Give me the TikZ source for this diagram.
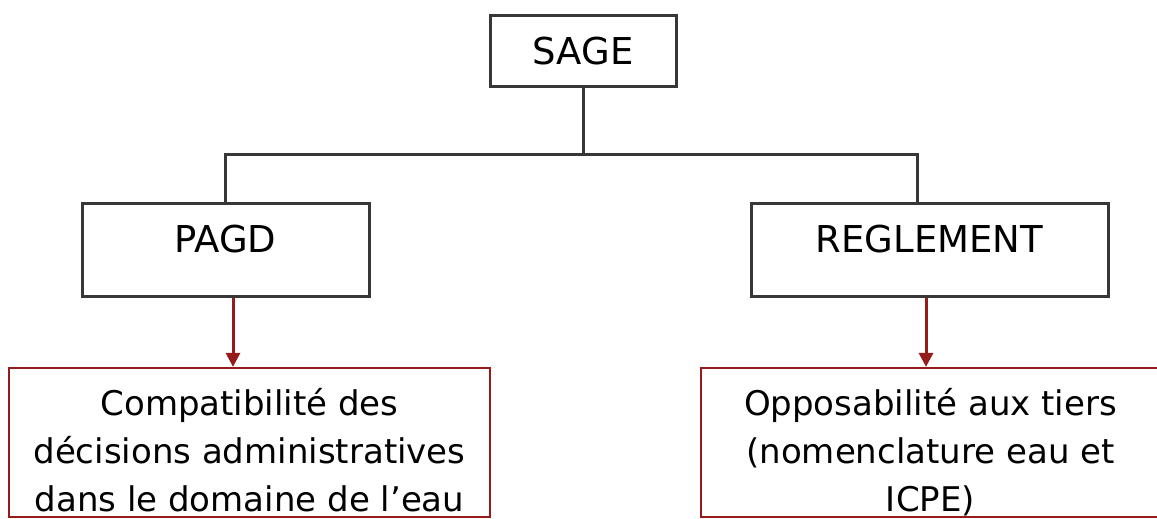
\documentclass[tikz,border=0pt]{standalone}
\usepackage{fontspec}
\setmainfont{DejaVu Sans}
\usepackage{tikz}
\usetikzlibrary{arrows.meta}
\usepackage{xcolor}
\definecolor{boxgray}{RGB}{55,55,55}
\definecolor{linkred}{RGB}{150,28,28}

\begin{document}
\begin{tikzpicture}[x=0.5pt,y=-0.5pt]
  \tikzset{levelbox/.style={draw=boxgray,line width=1.5pt,fill=white,inner sep=0pt,font=\fontsize{18.5}{22}\selectfont,text height=24.5pt}}
  \tikzset{effectbox/.style={draw=linkred,line width=1.1pt,inner sep=0pt,align=center,font=\fontsize{17}{24}\selectfont,text height=71.5pt,text depth=3pt}}
  \tikzset{treelink/.style={draw=boxgray,line width=1.5pt}}
  \tikzset{effectlink/.style={draw=linkred,line width=1.5pt,-{Triangle[width=7pt,length=7pt]}}}
  \useasboundingbox (0,0) rectangle (1157,519);
  \node[levelbox,minimum width=93pt,text depth=11pt] (sage) at (583,51.5) {SAGE};
  \node[levelbox,minimum width=143.5pt,text depth=22pt] (pagd) at (225.5,249.5) {PAGD};
  \node[levelbox,minimum width=178.5pt,text depth=22pt] (regl) at (929.5,249.5) {REGLEMENT};
  \node[effectbox,minimum width=240.5pt] (compat) at (249.5,442.5) {Compatibilité des\\décisions administratives\\dans le domaine de l’eau};
  \node[effectbox,minimum width=229.5pt] (oppos) at (930.5,442.5) {Opposabilité aux tiers\\(nomenclature eau et\\ICPE)};
  \coordinate (bar) at (583,155);
  \draw[treelink] (sage.south) -- (bar);
  \draw[treelink] (pagd.north) |- (bar) -| ([xshift=-6.25pt]regl.north);
  \draw[effectlink] ([xshift=3.75pt]pagd.south) -- ([xshift=3.75pt]pagd.south |- compat.north);
  \draw[effectlink] ([xshift=-1.75pt]regl.south) -- ([xshift=-1.75pt]regl.south |- oppos.north);
\end{tikzpicture}
\end{document}
